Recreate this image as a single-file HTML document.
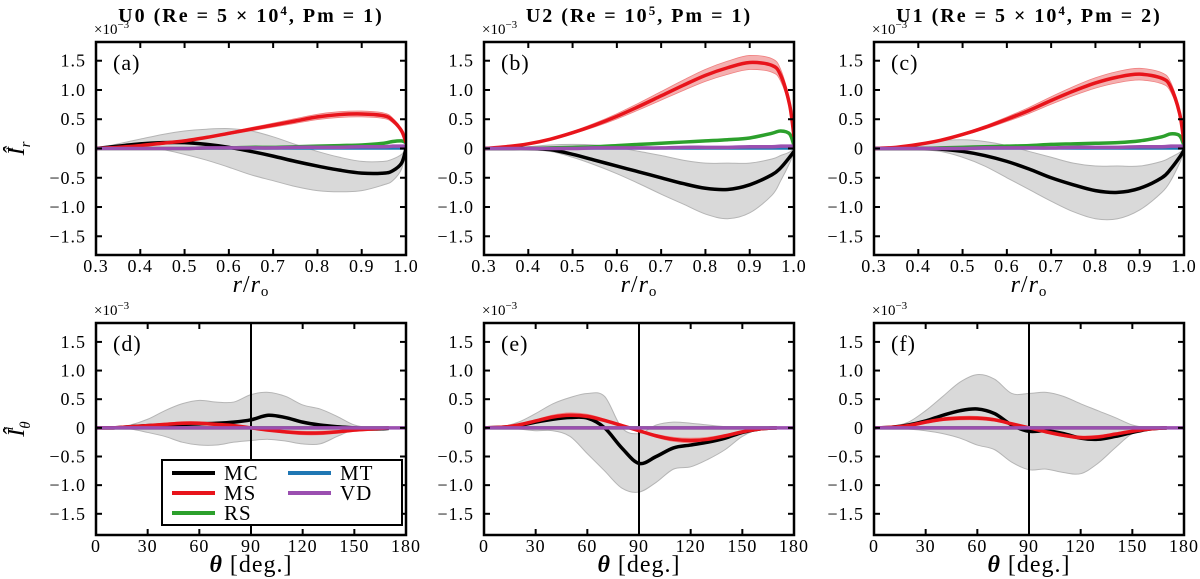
<!DOCTYPE html>
<html><head><meta charset="utf-8"><style>
body{margin:0;background:#fff}
svg{display:block;font-family:"Liberation Serif",serif}
</style></head><body>
<svg id="fig" width="1200" height="579" viewBox="0 0 1200 579"></svg>
<script>
const rVals=[0.3,0.35,0.4,0.45,0.5,0.55,0.6,0.65,0.7,0.75,0.8,0.85,0.9,0.95,0.97,0.99,1.0];
const thVals=[0,10,20,30,40,50,60,70,80,90,100,110,120,130,140,150,160,170,180];
const rTicks=[0.3,0.4,0.5,0.6,0.7,0.8,0.9,1.0];
const rTickLabels=["0.3","0.4","0.5","0.6","0.7","0.8","0.9","1.0"];
const thTicks=[0,30,60,90,120,150,180];
const yTicks=[-1.5,-1.0,-0.5,0,0.5,1.0,1.5];
const yTickLabels=["\u22121.5","\u22121.0","\u22120.5","0","0.5","1.0","1.5"];
// panel a
const mcA=[0,0.04,0.08,0.1,0.1,0.07,0.02,-0.05,-0.13,-0.22,-0.3,-0.37,-0.42,-0.42,-0.38,-0.25,0];
const mcHiA=[0,0.08,0.16,0.24,0.3,0.33,0.34,0.3,0.2,0.07,-0.05,-0.15,-0.22,-0.22,-0.18,-0.1,0];
const mcLoA=[0,0,0,-0.02,-0.1,-0.2,-0.32,-0.45,-0.55,-0.65,-0.72,-0.74,-0.72,-0.62,-0.55,-0.35,0];
const msA=[0,0.02,0.05,0.09,0.13,0.19,0.26,0.33,0.4,0.47,0.54,0.58,0.59,0.56,0.48,0.3,0.1];
const rsA=[0,0,0,0,0,0.01,0.01,0.02,0.02,0.03,0.04,0.05,0.06,0.09,0.12,0.13,0.1];
// panel b
const mcB=[0,0,0,-0.02,-0.1,-0.2,-0.3,-0.4,-0.5,-0.6,-0.68,-0.7,-0.62,-0.45,-0.33,-0.15,-0.05];
const mcHiB=[0,0,0.03,0.06,0.07,0.06,0.02,-0.05,-0.12,-0.2,-0.25,-0.25,-0.25,-0.18,-0.12,-0.06,0];
const mcLoB=[0,0,-0.02,-0.05,-0.15,-0.28,-0.43,-0.6,-0.78,-0.95,-1.12,-1.2,-1.1,-0.8,-0.55,-0.25,-0.05];
const msB=[0,0.03,0.08,0.16,0.27,0.4,0.55,0.72,0.9,1.08,1.25,1.38,1.47,1.42,1.25,0.75,0.2];
const rsB=[0,0,0,0.01,0.02,0.03,0.05,0.07,0.09,0.11,0.13,0.15,0.18,0.26,0.3,0.25,0.05];
// panel c
const mcC=[0,0,0,-0.01,-0.05,-0.12,-0.22,-0.35,-0.5,-0.62,-0.72,-0.75,-0.68,-0.5,-0.35,-0.15,-0.03];
const mcHiC=[0,0.01,0.05,0.13,0.15,0.12,0.05,-0.05,-0.15,-0.25,-0.3,-0.3,-0.3,-0.22,-0.15,-0.07,0];
const mcLoC=[0,0,-0.02,-0.05,-0.15,-0.3,-0.5,-0.7,-0.9,-1.08,-1.2,-1.2,-1.05,-0.75,-0.55,-0.25,-0.05];
const msC=[0,0.02,0.07,0.14,0.24,0.36,0.5,0.65,0.82,0.98,1.12,1.22,1.27,1.2,1.05,0.6,0.1];
const rsC=[0,0,0,0.01,0.02,0.03,0.04,0.05,0.07,0.08,0.09,0.1,0.13,0.2,0.25,0.22,0.05];
const vdR=[0,0,0,0,0,0.01,0.01,0.01,0.01,0.02,0.02,0.02,0.03,0.03,0.04,0.04,0.04];
// panel d
const mcD=[0,0,0.02,0.04,0.05,0.06,0.07,0.08,0.1,0.14,0.22,0.18,0.1,0.05,0.02,0,-0.02,-0.01,0];
const mcHiD=[0,0,0.05,0.15,0.3,0.42,0.48,0.45,0.45,0.58,0.62,0.55,0.4,0.33,0.2,0.05,0,0,0];
const mcLoD=[0,0,-0.02,-0.08,-0.15,-0.25,-0.3,-0.3,-0.25,-0.22,-0.2,-0.23,-0.28,-0.28,-0.15,-0.03,0,0,0];
const msD=[0,0,0.02,0.04,0.06,0.08,0.08,0.06,0.04,0,-0.04,-0.07,-0.09,-0.09,-0.07,-0.04,-0.02,0,0];
// panel e
const mcE=[0,0.01,0.04,0.1,0.15,0.18,0.17,0.0,-0.35,-0.62,-0.5,-0.35,-0.3,-0.25,-0.18,-0.08,-0.02,0,0];
const mcHiE=[0,0.02,0.1,0.25,0.42,0.53,0.6,0.55,0,-0.1,0.05,0.1,0.08,0.05,0.02,0,0,0,0];
const mcLoE=[0,0,-0.02,-0.05,-0.05,-0.15,-0.45,-0.75,-1.05,-1.12,-0.95,-0.72,-0.68,-0.55,-0.38,-0.15,-0.02,0,0];
const msE=[0,0.01,0.05,0.12,0.19,0.22,0.2,0.13,0.04,-0.05,-0.14,-0.2,-0.22,-0.2,-0.14,-0.07,-0.02,0,0];
// panel f
const mcF=[0,0.01,0.05,0.12,0.22,0.3,0.33,0.25,0.05,-0.06,-0.05,-0.1,-0.18,-0.2,-0.15,-0.08,-0.02,0,0];
const mcHiF=[0,0.02,0.1,0.3,0.55,0.8,0.93,0.85,0.6,0.6,0.62,0.55,0.42,0.3,0.18,0.05,0,0,0];
const mcLoF=[0,0,-0.02,-0.05,-0.1,-0.18,-0.3,-0.38,-0.6,-0.73,-0.72,-0.78,-0.8,-0.62,-0.35,-0.1,-0.02,0,0];
const msF=[0,0.01,0.04,0.1,0.15,0.17,0.17,0.14,0.07,0,-0.07,-0.13,-0.17,-0.16,-0.11,-0.06,-0.02,0,0];
const zeroT=thVals.map(()=>0);

const NS="http://www.w3.org/2000/svg";
const svg=document.getElementById('fig');
function el(tag,attrs,parent){const e=document.createElementNS(NS,tag);for(const k in attrs)e.setAttribute(k,attrs[k]);(parent||svg).appendChild(e);return e;}
function pathD(pts){let d="M"+pts[0][0]+","+pts[0][1];for(let i=0;i<pts.length-1;i++){const p0=pts[Math.max(i-1,0)],p1=pts[i],p2=pts[i+1],p3=pts[Math.min(i+2,pts.length-1)];
d+=" C"+(p1[0]+(p2[0]-p0[0])/6)+","+(p1[1]+(p2[1]-p0[1])/6)+" "+(p2[0]-(p3[0]-p1[0])/6)+","+(p2[1]-(p3[1]-p1[1])/6)+" "+p2[0]+","+p2[1];}return d;}

const panels=[
 {id:'a',L:96,T:42,B:255,xs:rVals,x0:0.3,x1:1.0,xt:rTicks,xl:rTickLabels,ymin:-1.82,ymax:1.82,mc:mcA,hi:mcHiA,lo:mcLoA,ms:msA,msw:0.05,rs:rsA,vd:vdR,title:'U0 (Re = 5 × 10',tsup:'4',tend:', Pm = 1)',theta:false},
 {id:'b',L:484,T:42,B:255,xs:rVals,x0:0.3,x1:1.0,xt:rTicks,xl:rTickLabels,ymin:-1.82,ymax:1.82,mc:mcB,hi:mcHiB,lo:mcLoB,ms:msB,msw:0.12,rs:rsB,vd:vdR,title:'U2 (Re = 10',tsup:'5',tend:', Pm = 1)',theta:false},
 {id:'c',L:874,T:42,B:255,xs:rVals,x0:0.3,x1:1.0,xt:rTicks,xl:rTickLabels,ymin:-1.82,ymax:1.82,mc:mcC,hi:mcHiC,lo:mcLoC,ms:msC,msw:0.1,rs:rsC,vd:vdR,title:'U1 (Re = 5 × 10',tsup:'4',tend:', Pm = 2)',theta:false},
 {id:'d',L:96,T:323,B:535,xs:thVals,x0:0,x1:180,xt:thTicks,xl:thTicks.map(String),ymin:-1.87,ymax:1.83,mc:mcD,hi:mcHiD,lo:mcLoD,ms:msD,msw:0.03,rs:zeroT,vd:zeroT,theta:true},
 {id:'e',L:484,T:323,B:535,xs:thVals,x0:0,x1:180,xt:thTicks,xl:thTicks.map(String),ymin:-1.87,ymax:1.83,mc:mcE,hi:mcHiE,lo:mcLoE,ms:msE,msw:0.04,rs:zeroT,vd:zeroT,theta:true},
 {id:'f',L:874,T:323,B:535,xs:thVals,x0:0,x1:180,xt:thTicks,xl:thTicks.map(String),ymin:-1.87,ymax:1.83,mc:mcF,hi:mcHiF,lo:mcLoF,ms:msF,msw:0.03,rs:zeroT,vd:zeroT,theta:true}
];
const W=310;
panels.forEach(p=>{
 const g=el('g',{});
 
 
 const X=v=>p.L+(v-p.x0)/(p.x1-p.x0)*W;
 const Y=v=>p.B-(v-p.ymin)/(p.ymax-p.ymin)*(p.B-p.T);
 const cp=el('clipPath',{id:'clip'+p.id},g);el('rect',{x:p.L,y:p.T,width:W,height:p.B-p.T},cp);
 const pg=el('g',{'clip-path':'url(#clip'+p.id+')'},g);
 const up=p.xs.map((x,i)=>[X(x),Y(p.hi[i])]),dn=p.xs.map((x,i)=>[X(x),Y(p.lo[i])]).reverse();
 const band=el('path',{d:pathD(up)+" L"+pathD(dn).slice(1)+" Z",fill:'#d9d9d9',stroke:'#b5b5b5','stroke-width':1},pg);
 
 
 const mmax=Math.max(...p.ms.map(Math.abs))||1;
 const mu=p.xs.map((x,i)=>[X(x),Y(p.ms[i]+p.msw*Math.abs(p.ms[i])/mmax)]);
 const md=p.xs.map((x,i)=>[X(x),Y(p.ms[i]-p.msw*Math.abs(p.ms[i])/mmax)]).reverse();
 const mb=el('path',{d:pathD(mu)+" L"+pathD(md).slice(1)+" Z",fill:'#f4b0b0',stroke:'#f08080','stroke-width':0.8},pg);
 
 
 if(p.theta){const vl=el('line',{x1:X(90),x2:X(90),y1:p.T,y2:p.B,stroke:'#000','stroke-width':2},pg);
  
  }
 const series=[['mt',p.xs.map(()=>0),'#1f77b4'],['rs',p.rs,'#2ca02c'],['mc',p.mc,'#000'],['ms',p.ms,'#e8141b'],['vd',p.vd,'#9b4fb0']];
 series.forEach(s=>{
  const last=p.theta?p.xs.length-2:p.xs.length-1;
  const pts=p.xs.slice(0,s[0]==='vd'||s[0]==='mt'?p.xs.length:last+1).map((x,i)=>[X(x),Y(s[1][i])]);
  const pe=el('path',{d:pathD(pts),fill:'none',stroke:s[2],'stroke-width':s[0]==='mt'?2.5:3.5},pg);
  
  
 });
 el('rect',{x:p.L,y:p.T,width:W,height:p.B-p.T,fill:'none',stroke:'#000','stroke-width':2.5},g);
 p.xt.forEach((t,i)=>{const x=X(t);el('line',{x1:x,x2:x,y1:p.B,y2:p.B-6,stroke:'#000','stroke-width':2},g);el('line',{x1:x,x2:x,y1:p.T,y2:p.T+6,stroke:'#000','stroke-width':2},g);
  const tl=el('text',{x:x,y:p.B+17,'font-size':18,'letter-spacing':1,'text-anchor':'middle'},g);tl.textContent=p.xl[i];
  
  });
 yTicks.forEach((t,i)=>{const y=Y(t);el('line',{x1:p.L,x2:p.L+6,y1:y,y2:y,stroke:'#000','stroke-width':2},g);el('line',{x1:p.L+W,x2:p.L+W-6,y1:y,y2:y,stroke:'#000','stroke-width':2},g);
  const tl=el('text',{x:p.L-10,y:y+6,'font-size':18,'letter-spacing':1,'text-anchor':'end'},g);tl.textContent=yTickLabels[i];
  
  });
 const sc=el('text',{x:p.L-2,y:p.T-8,'font-size':15},g);sc.innerHTML='×10<tspan dy="-6" font-size="11">−3</tspan>';
 
 
 const pl=el('text',{x:p.L+17,y:p.T+28,'font-size':22,'letter-spacing':1},g);pl.textContent='('+p.id+')';
 
 
 const xl=el('text',{x:p.L+W/2,y:p.B+37,'font-size':24,'letter-spacing':1,'text-anchor':'middle'},g);
 xl.innerHTML=p.theta?'<tspan font-style="italic" font-weight="bold">θ</tspan> [deg.]':'<tspan font-style="italic">r</tspan>/<tspan font-style="italic">r</tspan><tspan font-size="15" dy="4">o</tspan>';
 
 
 if(p.title){const tt=el('text',{x:p.L+W/2,y:22,'font-size':20,'letter-spacing':2,'font-weight':'bold','text-anchor':'middle'},g);
  tt.innerHTML=p.title+'<tspan dy="-7" font-size="13">'+p.tsup+'</tspan><tspan dy="7">'+p.tend+'</tspan>';
  
  }
 if(p.id==='a'||p.id==='d'){
  const yy=(p.T+p.B)/2;
  const yl=el('text',{x:0,y:0,'font-size':24,'font-style':'italic','text-anchor':'middle',transform:'translate(24,'+yy+') rotate(-90)'},g);
  yl.innerHTML='Î<tspan font-size="15" dy="6">'+(p.theta?'θ':'r')+'</tspan><tspan font-size="14" dx="-9" dy="-17">i</tspan>';
  
  
 }
 if(p.id==='d'){
  const lg=el('g',{},g);
  
  
  el('rect',{x:162,y:460,width:240,height:65,fill:'#fff',stroke:'#000','stroke-width':2},lg);
  const items=[['MC','#000',172,473],['MS','#e8141b',172,493],['RS','#2ca02c',172,513],['MT','#1f77b4',288,473],['VD','#9b4fb0',288,493]];
  items.forEach(it=>{
   const e=el('g',{},lg);
   
   
   el('line',{x1:it[2],x2:it[2]+43,y1:it[3],y2:it[3],stroke:it[1],'stroke-width':4},e);
   const t=el('text',{x:it[2]+52,y:it[3]+7,'font-size':21,'letter-spacing':1},e);t.textContent=it[0];
  });
 }
});
</script>
</body></html>
